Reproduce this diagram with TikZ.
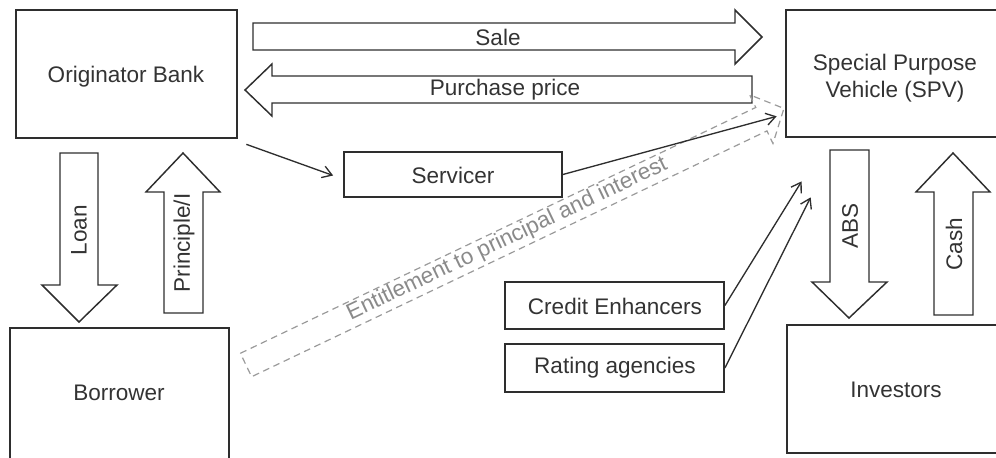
\documentclass[tikz,border=0pt]{standalone}
\usepackage{fontspec}
\setmainfont{Liberation Sans}
\usetikzlibrary{arrows.meta,calc}
\definecolor{ink}{HTML}{2E2E2E}
\definecolor{txt}{HTML}{333333}
\definecolor{dashc}{HTML}{9A9A9A}
\definecolor{dtxt}{HTML}{8A8A8A}
\begin{document}
\begin{tikzpicture}[x=0.75pt,y=-0.75pt,
  mainbox/.style={draw=ink,line width=2pt,inner sep=0pt},
  smallbox/.style={draw=ink,line width=1.3pt,inner sep=0pt},
  blockarrow/.style={draw=ink,line width=1.1pt,line join=miter},
  lbl/.style={text=txt,font=\fontsize{16.9}{20.5}\selectfont,inner sep=0pt,align=center},
  conn/.style={draw=ink,line width=1pt,-{Straight Barb[length=7pt,width=9pt,line width=1pt]}},
  entarrow/.style={draw=dashc,line width=0.9pt,dash pattern=on 5pt off 3.5pt,line join=miter},
]
\useasboundingbox (0,0) rectangle (996,457);
\clip (0,0) rectangle (996,457);

% main boxes
\node[mainbox,minimum width=165.75pt,minimum height=96pt] (orig) at (126.5,74) {};
\node[lbl] (origt) at (126,77) {Originator Bank};
\node[mainbox,minimum width=163.5pt,minimum height=95.25pt] (spv) at (895,73.5) {};
\node[lbl] (spvt) at (895,78) {Special Purpose\\Vehicle (SPV)};
\node[mainbox,minimum width=164.25pt,minimum height=99pt] (borr) at (119.5,394) {};
\node[lbl] (borrt) at (119,393) {Borrower};
\node[mainbox,minimum width=162.75pt,minimum height=96pt] (inv) at (895.5,389) {};
\node[lbl] (invt) at (896,390) {Investors};

% small boxes
\node[smallbox,minimum width=163.5pt,minimum height=33.75pt] (serv) at (453,174.5) {};
\node[lbl] (servt) at (453,175) {Servicer};
\node[smallbox,minimum width=164.25pt,minimum height=35.25pt] (cred) at (614.5,305.5) {};
\node[lbl] (credt) at (615,306) {Credit Enhancers};
\node[smallbox,minimum width=164.25pt,minimum height=36pt] (rate) at (614.5,368) {};
\node[lbl] (ratet) at (615,368) {Rating agencies};

% block arrows
\draw[blockarrow] (253,23) -- (735,23) -- (735,10) -- (762,37) -- (735,64) -- (735,50) -- (253,50) -- cycle;
\node[lbl] (sale) at (498,37) {Sale};
\draw[blockarrow] (752,76) -- (272,76) -- (272,64) -- (245,90) -- (272,116) -- (272,103) -- (752,103) -- cycle;
\node[lbl] (pp) at (505,90) {Purchase price};
\draw[blockarrow] (60,153) -- (98,153) -- (98,285) -- (117,285) -- (79,322) -- (42,285) -- (60,285) -- cycle;
\node[lbl,rotate=90] (loan) at (79,230) {Loan};
\draw[blockarrow] (164,313) -- (164,192) -- (146,192) -- (183,153) -- (220,192) -- (203,192) -- (203,313) -- cycle;
\node[lbl,rotate=90] (prin) at (184,243) {Principle/I};
\draw[blockarrow] (830,150) -- (869,150) -- (869,282) -- (887,282) -- (849,318) -- (812,282) -- (830,282) -- cycle;
\node[lbl,rotate=90] (abs) at (850,226) {ABS};
\draw[blockarrow] (934,315) -- (934,192) -- (916,192) -- (953,153) -- (990,192) -- (973,192) -- (973,315) -- cycle;
\node[lbl,rotate=90] (cash) at (954,244) {Cash};

% dashed entitlement arrow
\begin{scope}[shift={(246,365)},rotate=25.5]
\draw[entarrow] (0,-13) -- (571,-13) -- (571,-27) -- (596,0) -- (571,27) -- (571,13) -- (0,13) -- cycle;
\node[lbl,text=dtxt,rotate=25.5] (ent) at (290,-1) {Entitlement to principal and interest};
\end{scope}

% connectors
\coordinate (o2s) at ($(orig.south east)+(8,5)$);
\coordinate (s2spv) at ($(spv.south west)+(-8,-22)$);
\coordinate (c2spv) at ($(spv.south west)+(17,43)$);
\coordinate (r2spv) at ($(spv.south west)+(26,59)$);
\draw[conn] (o2s) -- ($(serv.west)+(-10,1)$);
\draw[conn] (serv.east) -- (s2spv);
\draw[conn] (cred.east) -- (c2spv);
\draw[conn] (rate.east) -- (r2spv);
\end{tikzpicture}
\end{document}
